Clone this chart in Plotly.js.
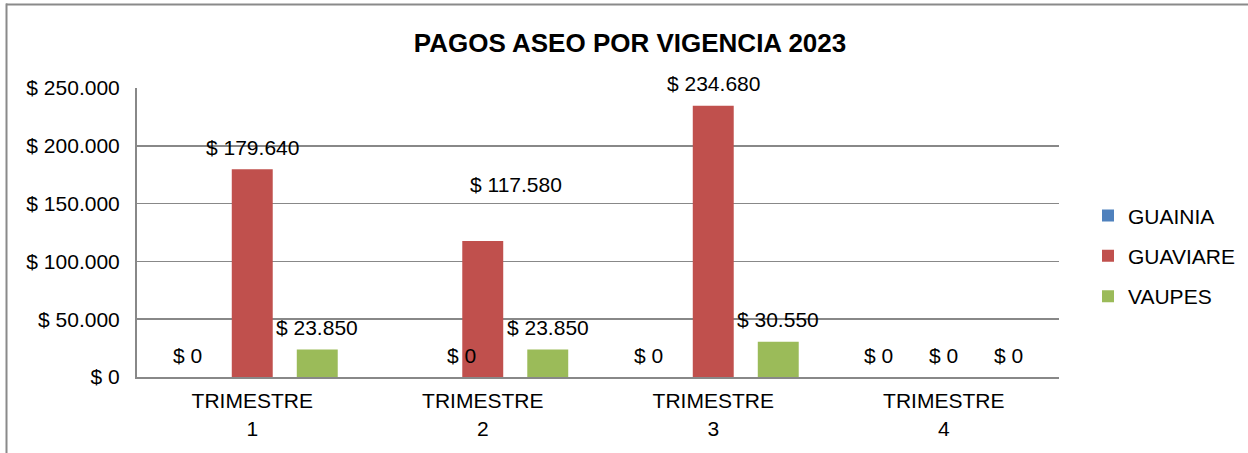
<!DOCTYPE html>
<html>
<head>
<meta charset="utf-8">
<script src="https://cdn.plot.ly/plotly-3.0.1.min.js"></script>
<style>
  html, body { margin: 0; padding: 0; background: #fff; }
  #chart { width: 1248px; height: 453px; }
</style>
</head>
<body>
<div id="chart"></div>
<script>
// ---- data ----
const categories = ["TRIMESTRE<br>1", "TRIMESTRE<br>2", "TRIMESTRE<br>3", "TRIMESTRE<br>4"];
const seriesNames = ["GUAINIA", "GUAVIARE", "VAUPES"];
const guainia = [0, 0, 0, 0];
const guaviare = [179640, 117580, 234680, 0];
const vaupes = [23850, 23850, 30550, 0];
const yTickValues = [0, 50000, 100000, 150000, 200000, 250000];

// ---- style ----
const colors = ["#4F81BD", "#C0504D", "#9BBB59"];
const FONT = "Liberation Sans, Arial, sans-serif";
const BARGAP = 0.154;
const BARGROUPGAP = 0.37;
// label nudges (px) for labels that were moved by hand in the original
const labelNudge = { "0-1": { dx: 44, dy: 0 }, "1-1": { dx: 33, dy: 35 } };

function fmt(n) {
  return "$ " + String(Math.round(n)).replace(/\B(?=(\d{3})+(?!\d))/g, ".");
}

const allSeries = [guainia, guaviare, vaupes];

const traces = allSeries.map((vals, k) => ({
  type: "bar",
  name: seriesNames[k],
  x: categories,
  y: vals,
  marker: { color: colors[k] },
  legendgroup: "g" + k,
  hoverinfo: "none"
}));

const slot = (1 - BARGAP) / allSeries.length;
const annotations = [];
allSeries.forEach((vals, k) => {
  vals.forEach((v, i) => {
    const nudge = labelNudge[k + "-" + i] || { dx: 0, dy: 0 };
    annotations.push({
      x: i + (k - (allSeries.length - 1) / 2) * slot,
      y: v,
      xref: "x", yref: "y",
      text: fmt(v),
      showarrow: false,
      xanchor: "center", yanchor: "middle",
      xshift: nudge.dx,
      yshift: 22 + nudge.dy,
      font: { family: FONT, size: 21, color: "#000" }
    });
  });
});

const layout = {
  width: 1248, height: 453,
  margin: { l: 137, r: 189, t: 88, b: 76, autoexpand: false },
  paper_bgcolor: "#fff", plot_bgcolor: "#fff",
  separators: ",.",
  font: { family: FONT, size: 21, color: "#000" },
  title: {
    text: "<b>PAGOS ASEO POR VIGENCIA 2023</b>",
    font: { family: FONT, size: 26, color: "#000" },
    xref: "container", yref: "container",
    x: 630 / 1248, y: 1 - 43 / 453, xanchor: "center", yanchor: "middle"
  },
  barmode: "group",
  bargap: BARGAP,
  bargroupgap: BARGROUPGAP,
  xaxis: {
    type: "category",
    showline: true, linecolor: "#888", linewidth: 2,
    showgrid: false, ticks: "",
    tickfont: { family: FONT, size: 21, color: "#000" },
    ticklabelstandoff: 4
  },
  yaxis: {
    range: [0, 250000],
    tickvals: yTickValues,
    ticktext: yTickValues.map(fmt),
    showline: true, linecolor: "#888", linewidth: 2,
    showgrid: true, gridcolor: "#888", gridwidth: 1.5,
    zeroline: false, ticks: "",
    tickfont: { family: FONT, size: 21, color: "#000" },
    ticklabelstandoff: 11
  },
  showlegend: true,
  legend: {
    xref: "container",
    x: 1088 / 1248, xanchor: "left",
    y: 0.419, yanchor: "middle",
    font: { family: FONT, size: 21, color: "#000" },
    tracegroupgap: 10,
    bgcolor: "rgba(0,0,0,0)"
  },
  annotations: annotations,
  shapes: [
    { type: "line", xref: "paper", yref: "paper",
      x0: (6 - 137) / 922, x1: (1250 - 137) / 922,
      y0: (377 - 4.5) / 289, y1: (377 - 4.5) / 289,
      line: { color: "#8a8a8a", width: 2 } },
    { type: "line", xref: "paper", yref: "paper",
      x0: (6.5 - 137) / 922, x1: (6.5 - 137) / 922,
      y0: (377 - 3.5) / 289, y1: (377 - 460) / 289,
      line: { color: "#8a8a8a", width: 2 } }
  ]
};

Plotly.newPlot("chart", traces, layout, { displayModeBar: false, staticPlot: true });
</script>
</body>
</html>
